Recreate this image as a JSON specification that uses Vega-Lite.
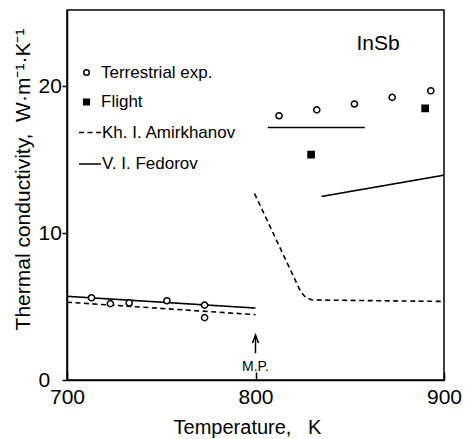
{
  "$schema": "https://vega.github.io/schema/vega-lite/v6.json",
  "width": 377,
  "height": 370,
  "autosize": {"type": "none"},
  "padding": {"left": 67, "top": 10, "right": 23, "bottom": 59},
  "background": "white",
  "config": {
    "font": "Liberation Sans",
    "view": {"stroke": "black", "strokeWidth": 1.5},
    "axis": {
      "grid": false,
      "domainColor": "black",
      "domainWidth": 1.5,
      "tickColor": "black",
      "tickWidth": 1.5,
      "labelColor": "black",
      "titleColor": "black",
      "labelFont": "Liberation Sans",
      "titleFont": "Liberation Sans",
      "labelFontSize": 21,
      "titleFontSize": 20,
      "titleFontWeight": "normal"
    },
    "legend": {
      "labelFont": "Liberation Sans",
      "labelColor": "black",
      "labelFontSize": 17,
      "padding": 0
    }
  },
  "datasets": {
    "pts": [
      {"T": 713, "k": 5.6, "kind": "Terrestrial exp."},
      {"T": 723, "k": 5.2, "kind": "Terrestrial exp."},
      {"T": 733, "k": 5.25, "kind": "Terrestrial exp."},
      {"T": 753, "k": 5.4, "kind": "Terrestrial exp."},
      {"T": 773, "k": 5.1, "kind": "Terrestrial exp."},
      {"T": 773, "k": 4.25, "kind": "Terrestrial exp."},
      {"T": 812.5, "k": 18.0, "kind": "Terrestrial exp."},
      {"T": 832.5, "k": 18.4, "kind": "Terrestrial exp."},
      {"T": 852.5, "k": 18.8, "kind": "Terrestrial exp."},
      {"T": 872.5, "k": 19.25, "kind": "Terrestrial exp."},
      {"T": 893, "k": 19.7, "kind": "Terrestrial exp."},
      {"T": 829.5, "k": 15.35, "kind": "Flight"},
      {"T": 890, "k": 18.5, "kind": "Flight"}
    ],
    "lines": [
      {"T": 700, "k": 5.7, "model": "V. I. Fedorov", "seg": "A"},
      {"T": 800, "k": 4.9, "model": "V. I. Fedorov", "seg": "A"},
      {"T": 806.5, "k": 17.2, "model": "V. I. Fedorov", "seg": "B"},
      {"T": 858, "k": 17.2, "model": "V. I. Fedorov", "seg": "B"},
      {"T": 835, "k": 12.5, "model": "V. I. Fedorov", "seg": "C"},
      {"T": 900, "k": 13.95, "model": "V. I. Fedorov", "seg": "C"},
      {"T": 700, "k": 5.3, "model": "Kh. I. Amirkhanov", "seg": "D"},
      {"T": 800, "k": 4.45, "model": "Kh. I. Amirkhanov", "seg": "D"},
      {"T": 799.5, "k": 12.7, "model": "Kh. I. Amirkhanov", "seg": "E"},
      {"T": 824, "k": 6.0, "model": "Kh. I. Amirkhanov", "seg": "E"},
      {"T": 826.5, "k": 5.65, "model": "Kh. I. Amirkhanov", "seg": "E"},
      {"T": 830, "k": 5.45, "model": "Kh. I. Amirkhanov", "seg": "E"},
      {"T": 900, "k": 5.35, "model": "Kh. I. Amirkhanov", "seg": "E"}
    ]
  },
  "layer": [
    {
      "data": {"name": "lines"},
      "mark": {"type": "line", "color": "black", "strokeWidth": 1.6},
      "encoding": {
        "x": {
          "field": "T",
          "type": "quantitative",
          "scale": {"domain": [700, 900], "nice": false, "zero": false},
          "axis": {
            "values": [700, 800, 900],
            "tickSize": -8,
            "labelPadding": 14,
            "labelFlush": false,
            "titlePadding": 10,
            "titleX": 180
          },
          "title": "Temperature,\u00a0\u00a0\u00a0K"
        },
        "y": {
          "field": "k",
          "type": "quantitative",
          "scale": {"domain": [0, 25.2], "nice": false},
          "axis": {
            "values": [0, 10, 20],
            "tickSize": 5,
            "labelAlign": "left",
            "labelPadding": 24,
            "titlePadding": 5,
            "titleY": 169,
            "titleFontSize": 21
          },
          "title": "Thermal conductivity,\u00a0\u00a0W\u00b7m\u207b\u00b9\u00b7K\u207b\u00b9"
        },
        "strokeDash": {
          "field": "model",
          "type": "nominal",
          "scale": {"domain": ["Kh. I. Amirkhanov", "V. I. Fedorov"], "range": [[5, 3.5], [1, 0]]},
          "legend": {
            "orient": "none",
            "legendX": 11,
            "legendY": 110.5,
            "title": null,
            "symbolType": "stroke",
            "symbolSize": 484,
            "symbolStrokeColor": "black",
            "symbolStrokeWidth": 1.6,
            "labelOffset": 0,
            "rowPadding": 11.5
          }
        },
        "detail": {"field": "seg"}
      }
    },
    {
      "data": {"name": "pts"},
      "mark": {"type": "point", "strokeWidth": 1.5, "size": 38, "opacity": 1},
      "encoding": {
        "x": {"field": "T", "type": "quantitative"},
        "y": {"field": "k", "type": "quantitative"},
        "shape": {
          "field": "kind",
          "type": "nominal",
          "scale": {"domain": ["Terrestrial exp.", "Flight"], "range": ["circle", "square"]},
          "legend": {
            "orient": "none",
            "legendX": 11,
            "legendY": 54,
            "title": null,
            "symbolSize": 32,
            "symbolStrokeWidth": 1.5,
            "labelOffset": 6,
            "rowPadding": 11.5
          }
        },
        "fill": {
          "field": "kind",
          "type": "nominal",
          "scale": {"domain": ["Terrestrial exp.", "Flight"], "range": ["white", "black"]},
          "legend": {
            "orient": "none",
            "legendX": 11,
            "legendY": 54,
            "title": null,
            "symbolSize": 32,
            "symbolStrokeWidth": 1.5,
            "labelOffset": 6,
            "rowPadding": 11.5
          }
        },
        "stroke": {
          "field": "kind",
          "type": "nominal",
          "scale": {"domain": ["Terrestrial exp.", "Flight"], "range": ["black", "black"]},
          "legend": {
            "orient": "none",
            "legendX": 11,
            "legendY": 54,
            "title": null,
            "symbolSize": 32,
            "symbolStrokeWidth": 1.5,
            "labelOffset": 6,
            "rowPadding": 11.5
          }
        }
      }
    },
    {
      "data": {"values": [{}]},
      "mark": {"type": "rule", "color": "black", "strokeWidth": 1.5},
      "encoding": {
        "x": {"datum": 800, "type": "quantitative"},
        "y": {"datum": 1.82, "type": "quantitative"},
        "y2": {"datum": 3.06}
      }
    },
    {
      "data": {"values": [{}]},
      "mark": {"type": "point", "shape": "M-0.6,1.6L0,0L0.6,1.6", "size": 100, "filled": false, "stroke": "black", "strokeWidth": 1.5, "opacity": 1},
      "encoding": {
        "x": {"datum": 800, "type": "quantitative"},
        "y": {"datum": 3.06, "type": "quantitative"}
      }
    },
    {
      "data": {"values": [{"label": "M.P."}]},
      "mark": {"type": "text", "font": "Liberation Sans", "fontSize": 14, "color": "black", "baseline": "middle", "align": "center"},
      "encoding": {
        "x": {"datum": 800, "type": "quantitative"},
        "y": {"datum": 0.9, "type": "quantitative"},
        "text": {"field": "label"}
      }
    },
    {
      "data": {"values": [{"label": "InSb"}]},
      "mark": {"type": "text", "font": "Liberation Sans", "fontSize": 21, "color": "black", "baseline": "alphabetic", "align": "right"},
      "encoding": {
        "x": {"datum": 876.5, "type": "quantitative"},
        "y": {"datum": 22.45, "type": "quantitative"},
        "text": {"field": "label"}
      }
    }
  ]
}
